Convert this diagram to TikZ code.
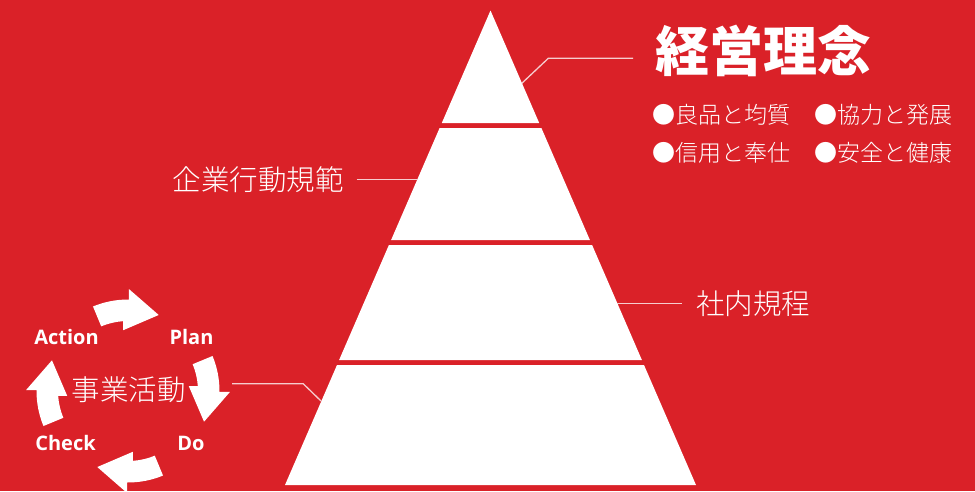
\documentclass[tikz,border=0pt]{standalone}
\usepackage{fontspec}
\setmainfont{Noto Sans CJK JP}
\IfFontExistsTF{Noto Sans CJK JP Light}
  {\newfontfamily\jplight{Noto Sans CJK JP Light}}
  {\newfontfamily\jplight{Noto Sans CJK JP}}
\newfontfamily\pdcafont{Open Sans}
\usetikzlibrary{calc}
\definecolor{bgred}{RGB}{218,33,40}
\definecolor{leadercol}{RGB}{246,205,207}
\newcommand\pdcaarrow[1]{%
  \fill[cyclearrow] (#1-22.5:91.5) arc[start angle=#1-22.5, end angle=#1+0.5, radius=91.5]
    -- (#1+0.5:102) -- (#1+22:82) -- (#1-4.5:61) -- (#1-4:70)
    arc[start angle=#1-4, end angle=#1-22.5, radius=70] -- cycle;}
\begin{document}
\begin{tikzpicture}[x=1pt,y=-1pt,
  tier/.style={fill=white},
  leaderline/.style={draw=leadercol, line width=1.3pt},
  jplabel/.style={text=white, font=\jplight\fontsize{28.5}{30}\selectfont, inner sep=0pt},
  bulletlabel/.style={text=white, font=\jplight\fontsize{23}{25}\selectfont, inner sep=0pt, anchor=west},
  pdcalabel/.style={text=white, font=\pdcafont\bfseries\fontsize{20}{22}\selectfont, inner sep=0pt},
  cyclearrow/.style={fill=white}]
\useasboundingbox (0,0) rectangle (975,491);
\clip (0,0) rectangle (975,491);
\fill[bgred] (0,0) rectangle (975,491);

% pyramid tiers
\fill[tier] (490.5,10.5) -- (539.2,123) -- (441.8,123) -- cycle;
\fill[tier] (439.6,128) -- (541.4,128) -- (589.9,240) -- (391.1,240) -- cycle;
\fill[tier] (388.9,245) -- (592.1,245) -- (641.9,360) -- (339.1,360) -- cycle;
\fill[tier] (337.0,365) -- (644.0,365) -- (696,485) -- (285,485) -- cycle;

% anchor points on the pyramid
\coordinate (p1) at (521.8,83.3);
\coordinate (p1k) at (548.3,58.3);
\coordinate (p2) at (417,179.3);
\coordinate (p3) at (617.3,303.3);
\coordinate (p4) at (321,401);
\coordinate (p4k) at (303.3,383.8);

% labels
\node[text=white, font=\bfseries\fontsize{54}{56}\selectfont, inner sep=0pt] (title) at (763,51) {経営理念};
\node[bulletlabel] (b1) at (652.5,115) {●良品と均質};
\node[bulletlabel] (b2) at (814.5,115) {●協力と発展};
\node[bulletlabel] (b3) at (652.5,153) {●信用と奉仕};
\node[bulletlabel] (b4) at (814.5,153) {●安全と健康};
\node[jplabel] (kihan) at (258,180) {企業行動規範};
\node[jplabel] (kitei) at (753.3,303.3) {社内規程};
\node[jplabel] (jigyo) at (128.5,389.5) {事業活動};

\coordinate (t1) at (633,58.3);
\coordinate (t2) at (356.7,179.3);
\coordinate (t3) at (681.7,303.3);
\coordinate (t4) at (232,383.8);

% leaders
\draw[leaderline] (p1) -- (p1k) -- (t1);
\draw[leaderline] (t2) -- (p2);
\draw[leaderline] (p3) -- (t3);
\draw[leaderline] (t4) -- (p4k) -- (p4);

% PDCA cycle
\node[pdcalabel] (act) at (66.5,337) {Action};
\node[pdcalabel] (plan) at (191.5,337) {Plan};
\node[pdcalabel] (chk) at (65.5,443) {Check};
\node[pdcalabel] (do) at (191,443) {Do};
\begin{scope}[shift={(128,391)}]
  \pdcaarrow{-90}
  \pdcaarrow{0}
  \pdcaarrow{90}
  \pdcaarrow{180}
\end{scope}
\end{tikzpicture}
\end{document}
